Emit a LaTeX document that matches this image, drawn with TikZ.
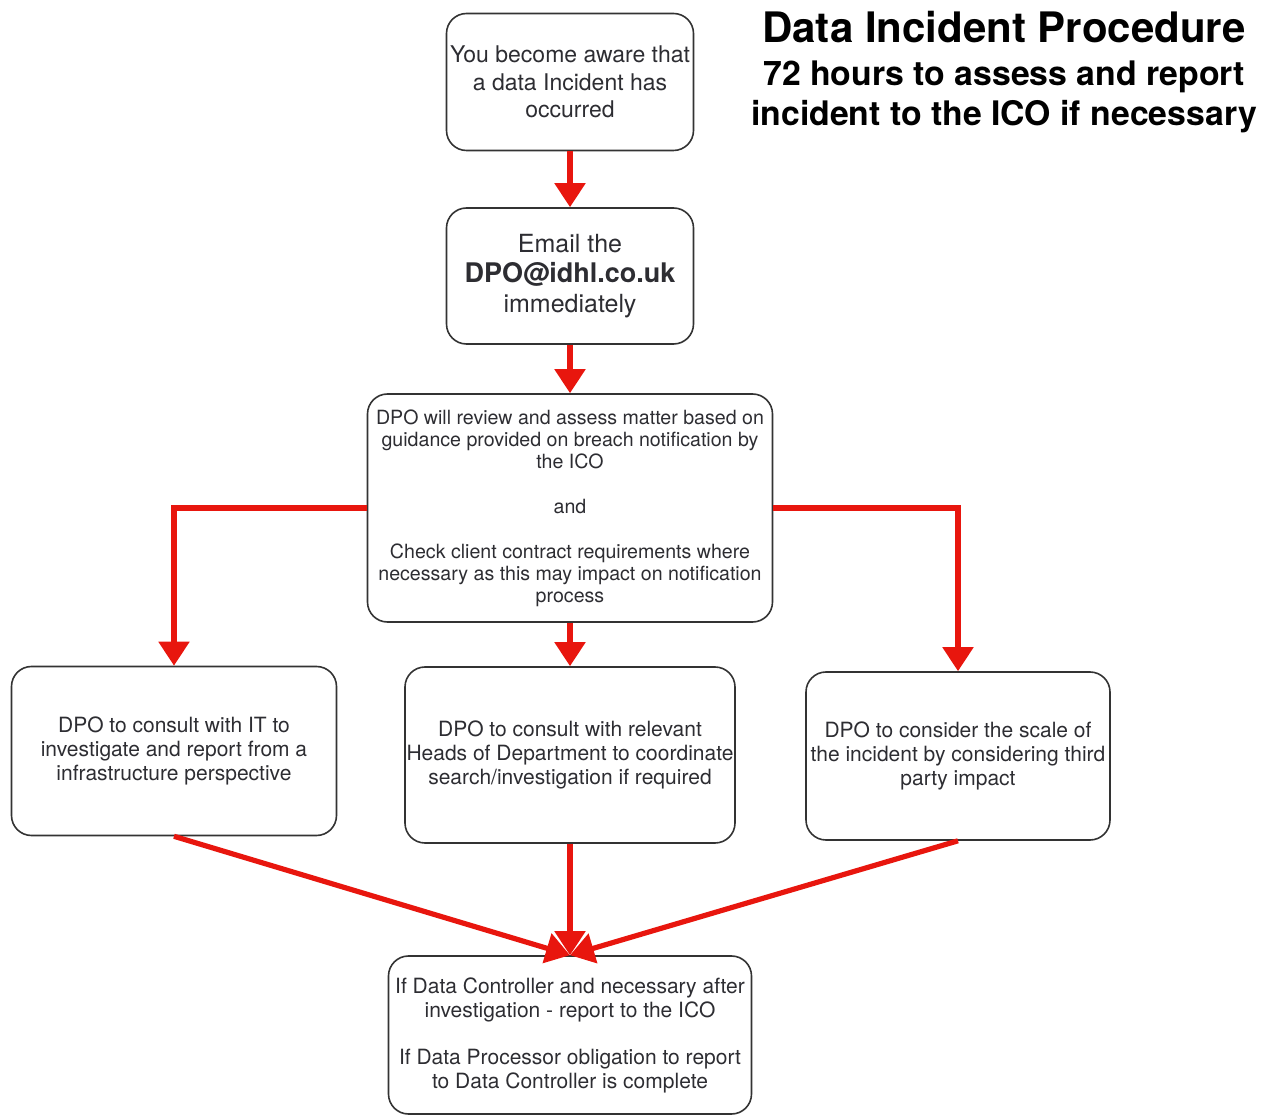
\documentclass[tikz,border=0pt]{standalone}
\usepackage{fontspec}
\setmainfont{TeX Gyre Heros}
\usetikzlibrary{arrows.meta}
\definecolor{arrred}{RGB}{232,22,14}
\definecolor{txt}{RGB}{45,45,50}
\begin{document}
\begin{tikzpicture}[x=0.5pt,y=-0.5pt,
  box/.style={draw=black!80, line width=0.8pt, rounded corners=10pt, align=center, inner sep=0pt, text=txt},
  flow/.style={draw=arrred, line width=2.6pt, -{Triangle[width=15pt,length=12pt]}},
  ttl/.style={font=\bfseries\fontsize{21}{24}\selectfont, align=center},
  sub/.style={font=\bfseries\fontsize{16.9}{20}\selectfont, align=center}]
\useasboundingbox (0,0) rectangle (1281,1117);

\node[box, minimum width=123.5pt, minimum height=68.5pt, font=\fontsize{11.5}{13.75}\selectfont] (b1) at (570,82)
  {You become aware that\\a data Incident has\\occurred};
\node[box, minimum width=123.5pt, minimum height=68pt, font=\fontsize{12.5}{15}\selectfont] (b2) at (570,276)
  {Email the\\{\bfseries\fontsize{13.5}{15}\selectfont DPO@idhl.co.uk}\\immediately};
\node[box, minimum width=202.5pt, minimum height=114pt, font=\fontsize{9.8}{11}\selectfont] (b3) at (570,508)
  {DPO will review and assess matter based on\\guidance provided on breach notification by\\the ICO\\[11.5pt]and\\[11.5pt]Check client contract requirements where\\necessary as this may impact on notification\\process};
\node[box, minimum width=162.5pt, minimum height=84.5pt, font=\fontsize{10.5}{12}\selectfont] (b4) at (174,751)
  {DPO to consult with IT to\\investigate and report from a\\infrastructure perspective};
\node[box, minimum width=165pt, minimum height=88pt, font=\fontsize{10.5}{12}\selectfont] (b5) at (570,755)
  {DPO to consult with relevant\\Heads of Department to coordinate\\search/investigation if required};
\node[box, minimum width=152pt, minimum height=84pt, font=\fontsize{10.5}{12}\selectfont] (b6) at (958,756)
  {DPO to consider the scale of\\the incident by considering third\\party impact};
\node[box, minimum width=181.5pt, minimum height=79pt, font=\fontsize{10.5}{12}\selectfont] (b7) at (570,1035)
  {If Data Controller and necessary after\\investigation - report to the ICO\\[11.5pt]If Data Processor obligation to report\\to Data Controller is complete};

\node[ttl] (t1) at (1004,27) {Data Incident Procedure};
\node[sub] (t2) at (1004,97) {72 hours to assess and report\\incident to the ICO if necessary};

\draw[flow] (b1.south) -- (b2.north);
\draw[flow] (b2.south) -- (b3.north);
\draw[flow] (b3.west) -| (b4.north);
\draw[flow] (b3.east) -| (b6.north);
\draw[flow] (b3.south) -- (b5.north);
\draw[flow] (b4.south) -- (b7.north);
\draw[flow] (b5.south) -- (b7.north);
\draw[flow] (b6.south) -- (b7.north);
\end{tikzpicture}
\end{document}
